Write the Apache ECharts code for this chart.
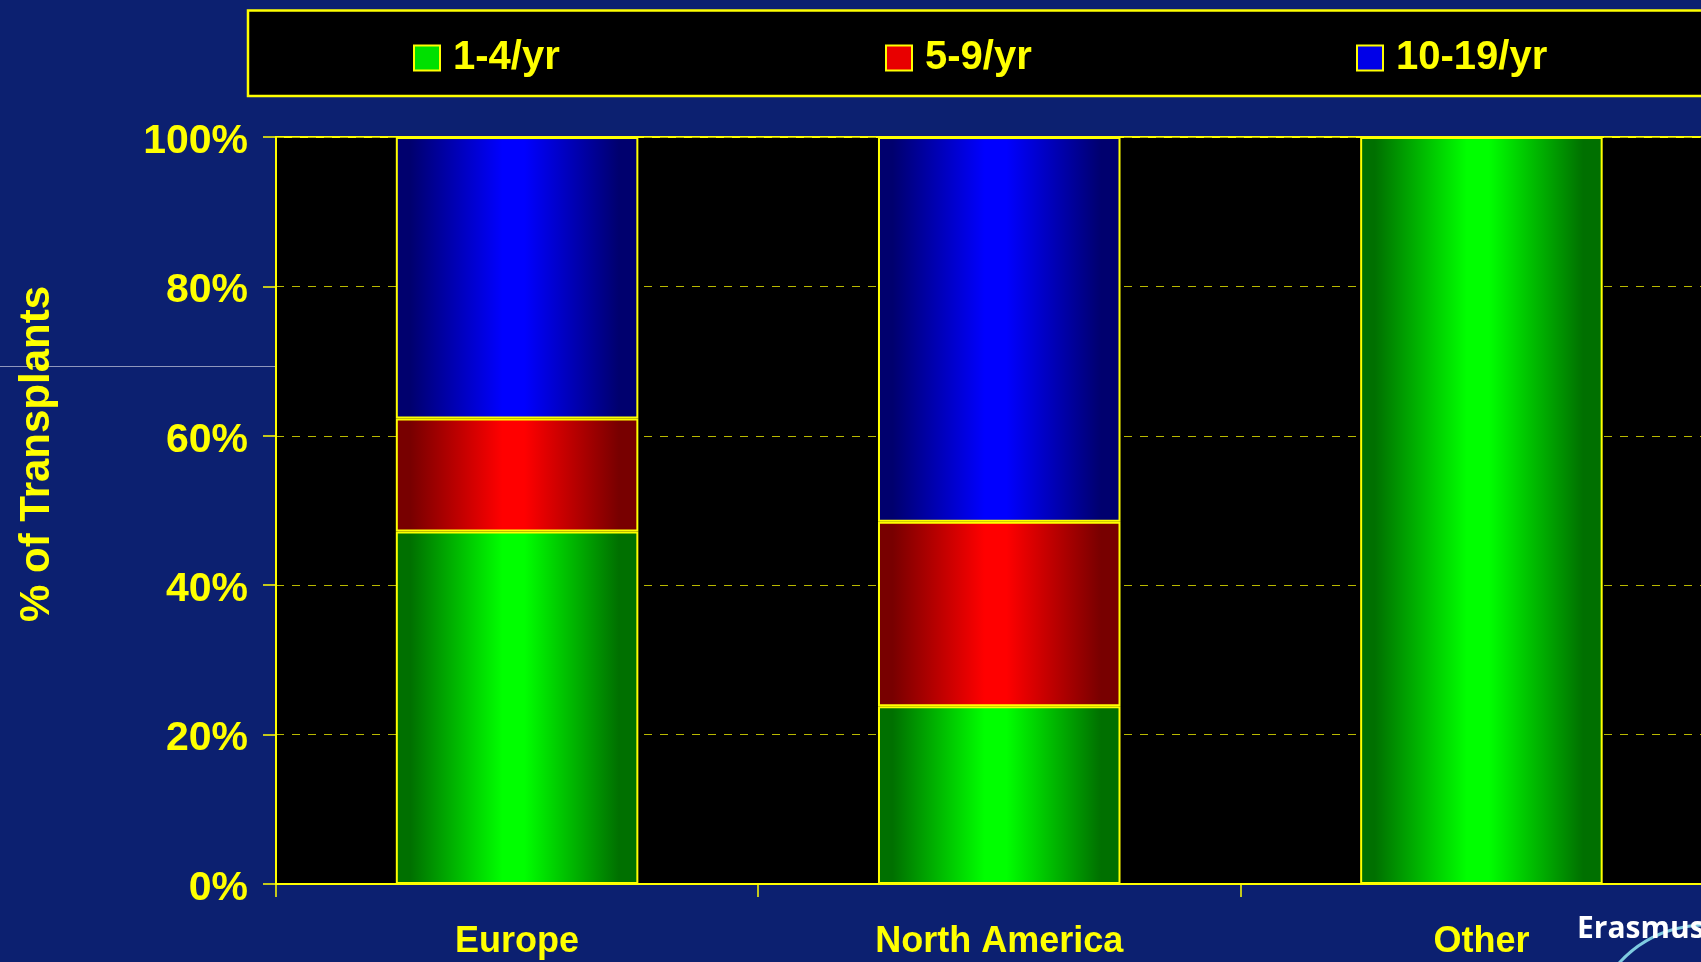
<!DOCTYPE html>
<html>
<head>
<meta charset="utf-8">
<script src="https://cdn.jsdelivr.net/npm/echarts@6/dist/echarts.min.js"></script>
<style>
html,body{margin:0;padding:0;background:#0c2070;}
#chart{width:1701px;height:962px;}
</style>
</head>
<body>
<div id="chart"></div>
<script>
const categories = ['Europe', 'North America', 'Other'];
const seriesNames = ['1-4/yr', '5-9/yr', '10-19/yr'];
const values_1_4 = [47.2, 23.8, 100];
const values_5_9 = [15.1, 24.7, 0];
const values_10_19 = [37.7, 51.5, 0];
const yAxisTitle = '% of Transplants';
const logoText = 'Erasmus';

const seriesValues = [values_1_4, values_5_9, values_10_19];
const brightColors = ['#00ff00', '#ff0000', '#0000ff'];
const darkColors = ['#007000', '#780000', '#00006e'];
const legendIconColors = ['#00e000', '#e80000', '#0000e8'];
const legendLefts = [413, 885, 1356];

function barGradient(i) {
  return new echarts.graphic.LinearGradient(0, 0, 1, 0, [
    {offset: 0, color: darkColors[i]},
    {offset: 0.06, color: darkColors[i]},
    {offset: 0.44, color: brightColors[i]},
    {offset: 0.53, color: brightColors[i]},
    {offset: 0.92, color: darkColors[i]},
    {offset: 1, color: darkColors[i]}
  ]);
}

const YELLOW = '#ffff00';
const FONT = "'Liberation Sans', Arial, sans-serif";

const chart = echarts.init(document.getElementById('chart'), null, {renderer: 'canvas'});

const option = {
  backgroundColor: '#0c2070',
  animation: false,
  grid: {
    left: 276, top: 137, bottom: 78, right: -21.5,
    show: true, backgroundColor: '#000000', borderColor: YELLOW, borderWidth: 2,
    containLabel: false, outerBoundsMode: 'none'
  },
  legend: seriesNames.map((n, i) => ({
    data: [{name: n, itemStyle: {color: legendIconColors[i], borderColor: YELLOW, borderWidth: 2}}],
    left: legendLefts[i], top: 38, padding: 0,
    icon: 'rect', itemWidth: 26, itemHeight: 25,
    selectedMode: false,
    textStyle: {color: YELLOW, fontSize: 40, fontWeight: 'bold', fontFamily: FONT, padding: [0, 0, 0, 8]}
  })),
  xAxis: {
    type: 'category',
    data: categories,
    boundaryGap: true,
    axisLine: {show: true, lineStyle: {color: YELLOW, width: 2}},
    axisTick: {show: true, length: 13, alignWithLabel: false, lineStyle: {color: YELLOW, width: 1.5}},
    axisLabel: {color: YELLOW, fontSize: 36, fontWeight: 'bold', fontFamily: FONT, margin: 40, interval: 0},
    splitLine: {show: false}
  },
  yAxis: {
    type: 'value',
    min: 0, max: 100, interval: 20,
    axisLine: {show: true, lineStyle: {color: YELLOW, width: 2}},
    axisTick: {show: true, length: 13, inside: false, lineStyle: {color: YELLOW, width: 1.5}},
    axisLabel: {color: YELLOW, fontSize: 41, fontWeight: 'bold', fontFamily: FONT, margin: 28,
      verticalAlign: 'top', lineHeight: 9, formatter: '{value}%'},
    splitLine: {show: true, lineStyle: {color: '#b8b800', width: 1, type: [8, 8]}}
  },
  series: seriesNames.map((n, i) => ({
    name: n,
    type: 'bar',
    stack: 'total',
    barWidth: '50.3%',
    data: seriesValues[i],
    itemStyle: {color: barGradient(i), borderColor: YELLOW, borderWidth: 2},
    emphasis: {disabled: true}
  })),
  graphic: [
    {
      type: 'rect', z: 0,
      shape: {x: 248, y: 10.5, width: 1500, height: 85.5},
      style: {fill: '#000000', stroke: YELLOW, lineWidth: 2.5}
    },
    {
      type: 'line', z: 0,
      shape: {x1: 0, y1: 366.5, x2: 275, y2: 366.5},
      style: {stroke: '#8f97bd', lineWidth: 1}
    },
    {
      type: 'text',
      x: 37, y: 454, rotation: Math.PI / 2,
      style: {text: yAxisTitle, fill: YELLOW, font: "bold 42px 'Liberation Sans', Arial, sans-serif",
        textAlign: 'center', textVerticalAlign: 'middle'}
    },
    {
      type: 'arc',
      shape: {cx: 1705, cy: 1041, r: 116, startAngle: -2.45, endAngle: -1.2, clockwise: true},
      style: {stroke: '#7fcbe0', lineWidth: 3, fill: null}
    },
    {
      type: 'text',
      x: 1577, y: 929,
      style: {text: logoText, fill: '#ffffff', font: "bold 30px 'Open Sans', sans-serif",
        textAlign: 'left', textVerticalAlign: 'middle'}
    }
  ]
};
chart.setOption(option);
</script>
</body>
</html>
